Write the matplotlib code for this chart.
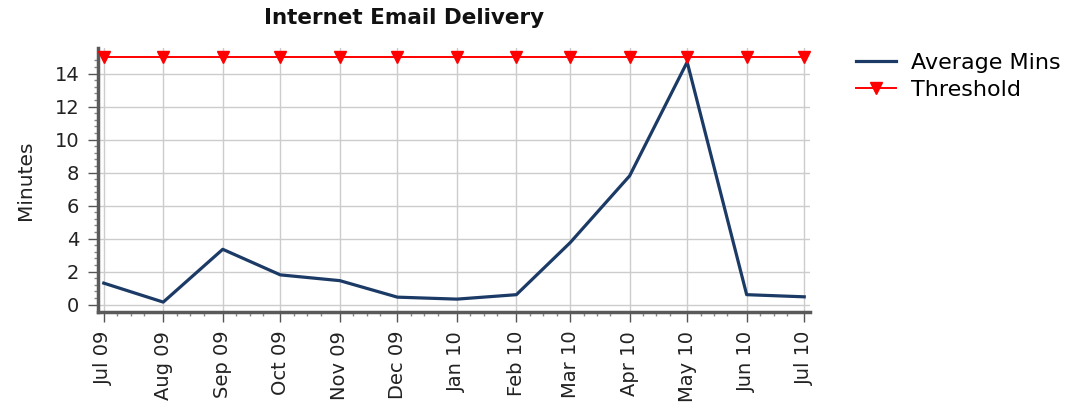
import datetime as dt
import matplotlib
matplotlib.use("Agg")
import matplotlib.pyplot as plt
import matplotlib.dates as mdates

# monthly values
months = [dt.date(2009, m, 1) for m in range(7, 13)] + [dt.date(2010, m, 1) for m in range(1, 8)]
avg_mins = [1.3, 0.15, 3.35, 1.8, 1.45, 0.45, 0.33, 0.6, 3.75, 7.8, 14.7, 0.6, 0.47]
threshold = [15] * len(months)
tick_labels = ["Jul 09", "Aug 09", "Sep 09", "Oct 09", "Nov 09", "Dec 09", "Jan 10",
               "Feb 10", "Mar 10", "Apr 10", "May 10", "Jun 10", "Jul 10"]

plt.rcParams['font.family'] = ['DejaVu Sans']

fig = plt.figure(figsize=(10.85, 4.13), dpi=100)
ax = fig.add_axes([98 / 1085, 1 - 312 / 413, 712 / 1085, 264 / 413])

ax.plot(months, avg_mins, color='#1b3a66', linewidth=2.3, label='Average Mins', zorder=3)
ax.plot(months, threshold, color='#ff0000', linewidth=1.4, marker='v', markersize=9,
        label='Threshold', zorder=4, clip_on=False)

pad = dt.timedelta(days=3.7)
ax.set_xlim(months[0] - pad, months[-1] + pad)
ax.set_ylim(-0.45, 15.55)

ax.set_xticks(months)
ax.set_xticklabels(tick_labels, rotation=90, fontsize=14, color='#222222')
ax.xaxis.set_minor_locator(mdates.DayLocator(bymonthday=[8, 15, 22]))
ax.set_yticks(range(0, 15, 2))
ax.set_yticks([v * 0.4 for v in range(0, 38)], minor=True)
ax.tick_params(axis='y', labelsize=14, labelcolor='#222222')
ax.tick_params(which='major', length=7.5, width=1, color='#555555', direction='out', pad=6)
ax.tick_params(which='minor', length=3, width=1, color='#888888', direction='out')

ax.grid(True, which='major', color='#cccccc', linewidth=1)
ax.set_axisbelow(True)

for side in ('top', 'right'):
    ax.spines[side].set_visible(False)
for side in ('left', 'bottom'):
    ax.spines[side].set_color('#5a5a5a')
    ax.spines[side].set_linewidth(2.5)

ax.set_ylabel('Minutes', fontsize=14.5, color='#222222')
ax.yaxis.set_label_coords((35 - 98) / 712, 0.5)

fig.text(404 / 1085, 1 - 18 / 413, 'Internet Email Delivery', fontsize=15.5,
         fontweight='bold', ha='center', va='center', color='#111111')

fig.legend(loc='upper left', bbox_to_anchor=(847 / 1085, 1 - 44 / 413), frameon=False,
           fontsize=16, handlelength=1.8, handletextpad=0.7, labelspacing=0.3,
           borderaxespad=0)

fig.savefig('out.png', dpi=100)
